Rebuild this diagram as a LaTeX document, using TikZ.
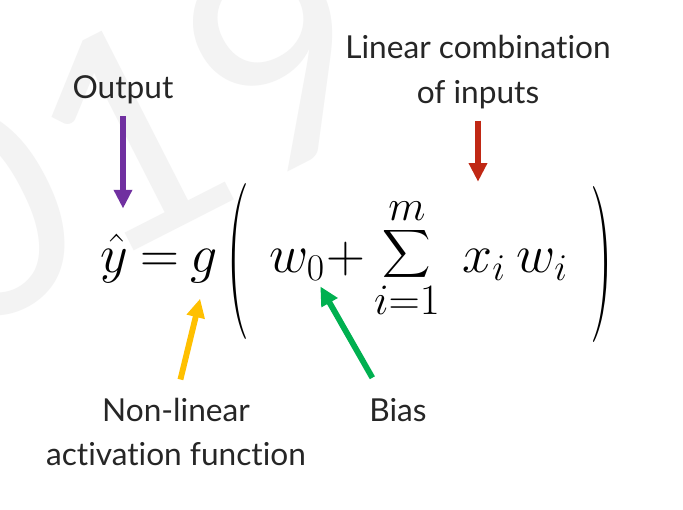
\documentclass[tikz,border=0pt]{standalone}
\usepackage{fix-cm}
\usepackage{exscale}
\usepackage[no-math]{fontspec}
\setmainfont{Lato}[Ligatures=NoCommon]
\usepackage{graphicx}
\usetikzlibrary{arrows.meta,positioning}
\definecolor{outpurple}{RGB}{112,48,160}
\definecolor{inred}{RGB}{192,40,20}
\definecolor{actyellow}{RGB}{255,192,0}
\definecolor{biasgreen}{RGB}{0,176,80}
\definecolor{markgray}{RGB}{243,243,243}
\begin{document}
\begin{tikzpicture}[x=0.03cm,y=-0.03cm,
  caption/.style={font=\fontsize{27}{38}\selectfont, text=black!85, align=center, inner sep=0pt},
  eqpart/.style={font=\fontsize{46}{52}\selectfont, inner sep=0pt, anchor=base},
  pointer/.style={line width=5pt, -{Triangle[width=15pt,length=16pt]}}]
  \useasboundingbox (0,0) rectangle (683,509);
  \fill[white] (0,0) rectangle (683,509);
  % faint watermark
  \begin{scope}
    \clip (0,0) rectangle (683,509);
    \node[text=markgray, font=\fontsize{250}{250}\selectfont, rotate=27] (mark) at (130,135) {019};
  \end{scope}

  % labels
  \node[caption] (output) at (123,90) {Output};
  \node[caption] (lincomb) at (478,72) {Linear combination\\of inputs};
  \node[caption] (nonlin) at (176,432) {Non-linear\\activation function};
  \node[caption] (bias) at (398,410) {Bias};

  % equation
  \node[eqpart] (yhat) at (114,272) {$\hat{y}$};
  \node[eqpart] (eq) at (160,272) {$=$};
  \node[eqpart] (g) at (204,272) {$g$};
  \node[eqpart] (lpar) at (238,300) {\scalebox{1.2}[2.9]{$($}};
  \node[eqpart] (w0) at (297,272) {$w_0$};
  \node[eqpart] (plus) at (346,272) {$+$};
  \node[eqpart, anchor=center] (sum) at (407,258) {\scalebox{1.15}{$\displaystyle\sum_{i=1}^{m}$}};
  \node[eqpart] (xi) at (484,272) {$x_i$};
  \node[eqpart] (wi) at (542,272) {$w_i$};
  \node[eqpart] (rpar) at (602,303) {\scalebox{1.2}[2.9]{$)$}};

  % arrows
  \draw[pointer, outpurple, shorten <=10pt, shorten >=22pt]
    (output.south) -- (output.south |- yhat.north);
  \draw[pointer, inred, shorten <=10pt, shorten >=57pt]
    (lincomb.south) -- (lincomb.south |- xi.north);
  \draw[pointer, actyellow, shorten <=16pt, shorten >=14pt]
    (nonlin.north) -- (g.south);
  \draw[pointer, biasgreen, shorten <=20pt, shorten >=6pt]
    ([xshift=-12pt]bias.north) -- ([xshift=-7pt]w0.south east);
\end{tikzpicture}
\end{document}
